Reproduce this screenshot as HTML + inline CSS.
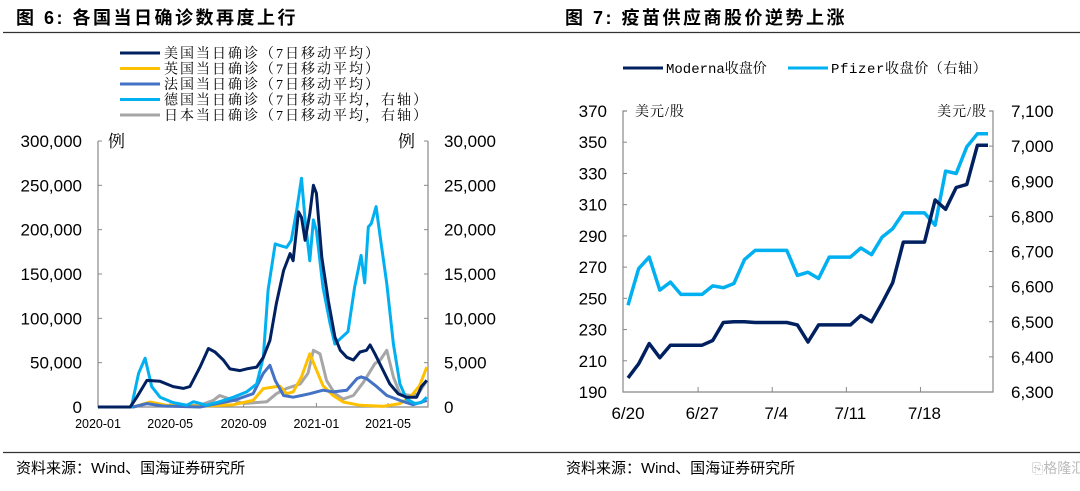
<!DOCTYPE html>
<html><head><meta charset="utf-8"><style>
body{margin:0;background:#fff;}
svg text{font-family:"Liberation Sans","Noto Sans CJK SC",sans-serif;}
.serif{font-family:"Liberation Serif","Noto Serif CJK SC",serif;}
.mono{font-family:"Liberation Mono","Noto Serif CJK SC",monospace;}
</style></head><body>
<svg id="c" width="1080" height="486" viewBox="0 0 1080 486" xmlns="http://www.w3.org/2000/svg">
<text x="16" y="24" font-size="18" font-weight="bold" letter-spacing="2.5" fill="#000">图 6:  各国当日确诊数再度上行</text>
<text x="565" y="24" font-size="18" font-weight="bold" letter-spacing="2.5" fill="#000">图 7:  疫苗供应商股价逆势上涨</text>
<line x1="3" y1="32.5" x2="1080" y2="32.5" stroke="#333" stroke-width="1.2"/>
<line x1="3" y1="452.5" x2="1080" y2="452.5" stroke="#333" stroke-width="1.2"/>
<text x="16" y="473" font-size="15" fill="#000">资料来源：Wind、国海证券研究所</text>
<text x="566" y="473" font-size="15" fill="#000">资料来源：Wind、国海证券研究所</text>
<text x="1032" y="473" font-size="14" fill="#bbb">⎘格隆汇</text>
<g id="left"></g><g id="right"></g>
</svg>
<script>
// ---- Left chart data (day index since 2020-01-01) ----
const usDays=[0,54,65,82,104,126,143,154,171,185,196,210,221,238,249,266,277,288,299,311,322,327,336,341,347,355,361,366,375,386,397,406,417,428,439,450,456,464,478,489,503,517,534,542,551];
const usVals=[0,0,11,30,29,23,21,23,45,66,62,53,43,41,43,45,56,75,117,154,173,165,220,214,188,218,250,241,169,120,79,64,56,53,62,64,70,60,41,26,15,11,11,23,30];
const deDays=[0,56,68,79,90,104,126,149,160,182,204,227,249,266,277,285,297,305,316,324,333,341,347,355,361,366,377,389,397,406,419,430,441,447,453,458,466,473,484,495,506,517,531,542,551];
const deVals=[0,0,3.8,5.5,2.3,1.1,0.5,0.2,0.6,0.2,0.6,1.1,1.7,2.6,5.6,13.2,18.4,18.2,18.0,18.8,22.2,25.8,21.1,16.5,21.1,19.9,13.5,9.4,7.1,7.7,8.5,13.5,17.1,14.0,20.3,20.7,22.6,19.2,13.9,7.1,2.6,0.9,0.4,0.5,1.1];
const jpDays=[0,59,87,115,171,193,204,221,244,283,299,316,339,352,361,372,383,397,411,428,445,464,473,484,495,506,523,537,551];
const jpVals=[0,0,0.45,0.1,0.2,0.75,1.3,0.9,0.4,0.6,1.5,2.1,2.6,3.8,6.4,6.0,3.0,1.5,0.9,1.3,2.8,4.9,5.3,6.4,3.4,1.5,1.3,1.5,3.0];
const ukDays=[0,59,87,115,171,227,260,277,294,305,316,327,341,355,364,377,394,411,439,478,506,523,539,551];
const ukVals=[0,0,5.6,1.9,0.8,2.6,7.5,20.7,22.6,23.3,15,17,34,60,45,24,13,5.6,1.9,0.8,3.8,11,24,45];
const frDays=[0,59,82,109,171,227,260,277,288,297,311,327,341,355,377,394,417,434,441,450,467,484,506,528,551];
const frVals=[0,0,3.8,1.1,0,7.5,15,38,47,30,13,11,13,15,19,17,19,32,34,32,23,13,7.5,2.6,7.5];
const leftTicks=[0,50000,100000,150000,200000,250000,300000];
const rightTicks=[0,5000,10000,15000,20000,25000,30000];
const xTickDays=[0,121,244,366,486];
const xTickLabels=['2020-01','2020-05','2020-09','2021-01','2021-05'];

// ---- Right chart data ----
const stockDates=['6/20','6/21','6/22','6/23','6/24','6/25','6/26','6/27','6/28','6/29','6/30','7/1','7/2','7/3','7/4','7/5','7/6','7/7','7/8','7/9','7/10','7/11','7/12','7/13','7/14','7/15','7/16','7/17','7/18','7/19','7/20','7/21','7/22','7/23','7/24'];
const moderna=[199,208,221,212,220,220,220,220,223,234.5,235,235,234.5,234.5,234.5,234.5,233,222,233,233,233,233,239,235,247,260,286,286,286,313,307,321,323,348,348];
const pfizer=[6547,6651,6684,6590,6613,6578,6578,6578,6602,6597,6609,6677,6703,6703,6703,6703,6632,6641,6623,6684,6684,6684,6710,6691,6741,6765,6810,6810,6810,6775,6929,6922,6998,7035,7035];
const rLeftTicks=[190,210,230,250,270,290,310,330,350,370];
const rRightTicks=[6300,6400,6500,6600,6700,6800,6900,7000,7100];
const rXTickIdx=[0,7,14,21,28];

const NS='http://www.w3.org/2000/svg';
function mk(parent,tag,attrs,text){const e=document.createElementNS(NS,tag);for(const k in attrs)e.setAttribute(k,attrs[k]);if(text!==undefined)e.textContent=text;parent.appendChild(e);return e;}
const fmt=v=>v.toLocaleString('en-US');

// Left chart
const L=document.getElementById('left');


const lx=d=>98+d*(290/486);
const ly=v=>407-v/300000*266;
const ly2=v=>407-v/30000*266;
let ax=mk(L,'path',{d:'M98,141V407H428V141',fill:'none',stroke:'#888','stroke-width':1.2});


leftTicks.forEach(v=>{const y=ly(v);
 const t=mk(L,'text',{x:82,y:y+6,'font-size':17,'text-anchor':'end',fill:'#000'},fmt(v));
 
 
 mk(L,'line',{x1:98,x2:102,y1:y,y2:y,stroke:'#888'});});
rightTicks.forEach(v=>{const y=ly2(v);
 const t=mk(L,'text',{x:444,y:y+6,'font-size':17,fill:'#000'},fmt(v));
 
 
 mk(L,'line',{x1:424,x2:428,y1:y,y2:y,stroke:'#888'});});
xTickDays.forEach((d,i)=>{const x=lx(d);
 mk(L,'line',{x1:x,x2:x,y1:403,y2:407,stroke:'#888'});
 const t=mk(L,'text',{x:x,y:428,'font-size':12.5,'text-anchor':'middle',fill:'#000'},xTickLabels[i]);
 
 });
let u=mk(L,'text',{x:108,y:147,'font-size':17,fill:'#000',class:'serif'},'例');


u=mk(L,'text',{x:398,y:147,'font-size':17,fill:'#000',class:'serif'},'例');


function series(days,vals,yf,color,name){const d=days.map((dd,i)=>(i?'L':'M')+lx(dd).toFixed(1)+','+yf(vals[i]*1000).toFixed(1)).join('');
 const p=mk(L,'path',{d:d,fill:'none',stroke:color,'stroke-width':3,'stroke-linejoin':'round'});
 
 }
series(jpDays,jpVals,ly2,'#a6a6a6','japan-line');
series(ukDays,ukVals,ly,'#ffc000','uk-line');
series(frDays,frVals,ly,'#4472c4','france-line');
series(deDays,deVals,ly2,'#00b0f0','germany-line');
series(usDays,usVals,ly,'#002060','us-line');
const legItems=[['#002060','美国当日确诊（7日移动平均）'],['#ffc000','英国当日确诊（7日移动平均）'],['#4472c4','法国当日确诊（7日移动平均）'],['#00b0f0','德国当日确诊（7日移动平均，右轴）'],['#a6a6a6','日本当日确诊（7日移动平均，右轴）']];
legItems.forEach((it,i)=>{const y=53+i*15.5;
 const g=mk(L,'g',{});
 
 
 mk(g,'line',{x1:120,x2:160,y1:y,y2:y,stroke:it[0],'stroke-width':3});
 mk(g,'text',{x:164,y:y+5,'font-size':14,'letter-spacing':2,fill:'#000',class:'serif'},it[1]);});

// Right chart
const R=document.getElementById('right');


const rx=i=>628+i*(360/34);
const ry=v=>392-(v-190)/180*281;
const ry2=v=>392-(v-6300)/800*281;
ax=mk(R,'path',{d:'M627,111H623V392H993V111H989',fill:'none',stroke:'#888','stroke-width':1.2});


rLeftTicks.forEach(v=>{const y=ry(v);
 const t=mk(R,'text',{x:607,y:y+6,'font-size':17,'text-anchor':'end',fill:'#000'},v);
 
 
 mk(R,'line',{x1:623,x2:627,y1:y,y2:y,stroke:'#888'});});
rRightTicks.forEach(v=>{const y=ry2(v);
 const t=mk(R,'text',{x:1011,y:y+6,'font-size':17,fill:'#000'},fmt(v));
 
 
 mk(R,'line',{x1:989,x2:993,y1:y,y2:y,stroke:'#888'});});
rXTickIdx.forEach(i=>{const x=rx(i);
 if(i>0)mk(R,'line',{x1:x-4,x2:x-4,y1:387,y2:392,stroke:'#888'});
 const t=mk(R,'text',{x:x,y:419,'font-size':17,'text-anchor':'middle',fill:'#000'},stockDates[i]);
 
 });
u=mk(R,'text',{x:635,y:116,'font-size':14,'letter-spacing':1,fill:'#000',class:'serif'},'美元/股');


u=mk(R,'text',{x:987,y:116,'font-size':14,'letter-spacing':1,'text-anchor':'end',fill:'#000',class:'serif'},'美元/股');


let p=mk(R,'path',{d:pfizer.map((v,i)=>(i?'L':'M')+rx(i).toFixed(1)+','+ry2(v).toFixed(1)).join(''),fill:'none',stroke:'#00b0f0','stroke-width':3.5,'stroke-linejoin':'round'});


p=mk(R,'path',{d:moderna.map((v,i)=>(i?'L':'M')+rx(i).toFixed(1)+','+ry(v).toFixed(1)).join(''),fill:'none',stroke:'#002060','stroke-width':3.5,'stroke-linejoin':'round'});


let g=mk(R,'g',{});


mk(g,'line',{x1:623,x2:663,y1:68,y2:68,stroke:'#002060','stroke-width':3});
mk(g,'text',{x:666,y:73,'font-size':14,fill:'#000',class:'mono'},'Moderna收盘价');
g=mk(R,'g',{});


mk(g,'line',{x1:788,x2:828,y1:68,y2:68,stroke:'#00b0f0','stroke-width':3});
mk(g,'text',{x:831,y:73,'font-size':14,'letter-spacing':0.6,fill:'#000',class:'mono'},'Pfizer收盘价（右轴）');
</script>
</body></html>
